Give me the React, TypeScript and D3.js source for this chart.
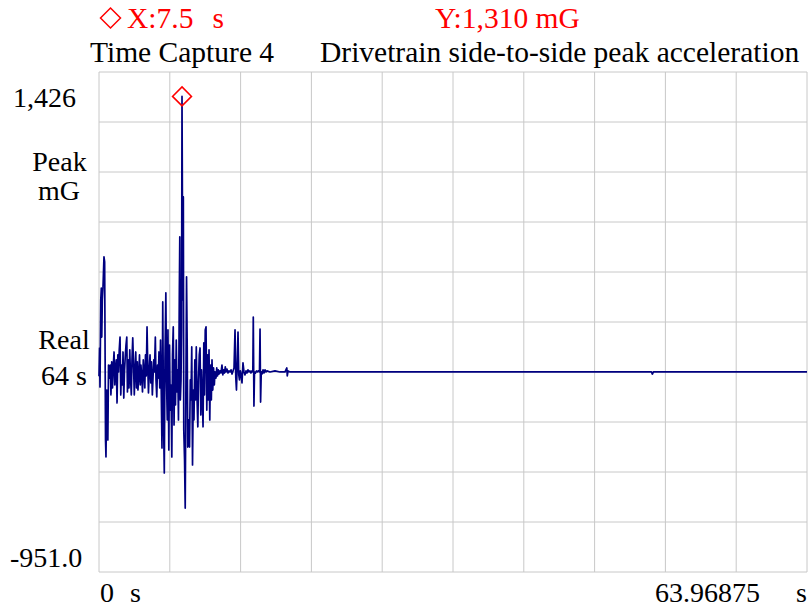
import React from "react";
import * as d3 from "d3";

const timesS: number[] = [
  0.0, 0.05, 0.09, 0.16, 0.21, 0.25, 0.3, 0.36, 0.45, 0.51, 0.59, 0.63, 0.7, 0.75, 0.8, 0.86,
  0.95, 1.02, 1.08, 1.15, 1.22, 1.28, 1.36, 1.43, 1.49, 1.56, 1.63, 1.7, 1.76, 1.83, 1.9, 1.97,
  2.03, 2.11, 2.17, 2.24, 2.3, 2.38, 2.44, 2.51, 2.57, 2.65, 2.71, 2.78, 2.85, 2.92, 2.98, 3.05,
  3.12, 3.19, 3.25, 3.32, 3.39, 3.46, 3.52, 3.6, 3.66, 3.73, 3.79, 3.87, 3.93, 4.0, 4.07, 4.14,
  4.2, 4.27, 4.34, 4.41, 4.47, 4.54, 4.61, 4.68, 4.74, 4.82, 4.88, 4.95, 5.01, 5.09, 5.15, 5.22,
  5.29, 5.36, 5.42, 5.49,
  5.56, 5.63, 5.69, 5.76, 5.83, 5.9, 5.96, 6.04, 6.1, 6.17, 6.23, 6.31, 6.37, 6.44, 6.51, 6.58,
  6.64, 6.71, 6.78, 6.85, 6.91, 6.98, 7.05, 7.12, 7.18, 7.26, 7.3, 7.35, 7.41, 7.46, 7.5, 7.57,
  7.62, 7.66, 7.73, 7.79, 7.84, 7.91, 7.97, 8.02, 8.11, 8.18, 8.25, 8.31, 8.38, 8.45, 8.52, 8.58,
  8.66, 8.72, 8.79, 8.85, 8.93, 8.99, 9.06, 9.13, 9.2, 9.26, 9.33, 9.4, 9.47, 9.53,
  9.6, 9.67, 9.74, 9.8, 9.88, 9.94, 10.01, 10.07, 10.15, 10.21, 10.28, 10.35, 10.42, 10.48, 10.57,
  10.64, 10.71, 10.78, 10.84, 10.93, 11.02, 11.11, 11.19, 11.25, 11.34, 11.41, 11.47, 11.56, 11.66,
  11.75, 11.84, 11.93, 12.02, 12.11, 12.2, 12.29, 12.36, 12.42, 12.5, 12.56, 12.63, 12.69, 12.77,
  12.83, 12.92, 13.01, 13.1, 13.19, 13.28, 13.37, 13.46, 13.55, 13.64, 13.73, 13.82, 13.9, 13.94,
  14.0, 14.05, 14.14, 14.23, 14.32, 14.41, 14.5, 14.55, 14.6, 14.66, 14.73, 14.82, 14.91, 15.0,
  15.09, 15.18, 15.45, 15.9, 16.35, 16.81, 16.97, 17.01, 17.08, 17.26, 30.0, 49.91, 50.0, 50.09,
  63.96875,
];

const valuesMG: number[] = [
  -20, 114, -71, 342, 399, 166, 342, 400, 547, 523, -323, -404, -86, -181, -323, 33,
  -29, 33, -109, 48, -76, 19, 95, -62, 10, 57, -147, 81, 0, 105, 166, -109,
  33, -62, 95, -124, 0, 81, 128, 166, -95, 57, -76, 105, -29, -109, 57, 162,
  33, -109, 10, 95, -76, 48, -86, -14, 81, -62, 33, -29, -95, 57, 0, -76,
  81, -19, 214, 19, -100, 10, 81, -52, 48, -109, -29, 57, 0, 166, -38, -119,
  33, -29, 95, -76,
  152, -109, -361, 333, -228, -480, 57, 376, -38, -228, 200, -371, 128, -181, -62, -404,
  81, 214, -252, 57, -157, 152, -95, 10, -228, 390, 642, -133, -38, 200, 1310, 342,
  832, -276, -418, -647, -181, 452, 119, -357, -228, -357, -38, -133, 119, -442, -86, -228,
  57, -133, 119, -109, -261, -38, 81, 114, -204, 10, -109, -261, 138, -109,
  200, 214, -181, 81, -133, 105, -228, 33, -133, 57, -86, 19, -62, 0, -29,
  19, -19, 10, -10, 5, -5, 33, -14, 10, -5, 24, 0, 14, -5,
  5, 0, 10, -10, 5, 19, 200, -29, -86, 57, 190, -14, -38, 5,
  -10, -52, 43, 0, -14, 5, -5, 10, 0, 5, -5, 5, 0, 261,
  -162, 0, -5, 5, 0, 5, 0, 204, -143, 0, -10, 10, -5, 10,
  0, 5, 0, 5, 0, 0, 19, -19, 5, 0, 0, 0, -10, 0,
  0,
];

const xDomain: [number, number] = [0, 63.96875];
const yDomain: [number, number] = [-951.0, 1426];
const cursorTime = 7.5;
const cursorValue = 1310;

const titleLeft = "Time Capture 4";
const titleRight = "Drivetrain side-to-side peak acceleration";
const cursorXText = "X:7.5";
const cursorXUnit = "s";
const cursorYText = "Y:1,310 mG";
const yTopLabel = "1,426";
const yBottomLabel = "-951.0";
const xStartLabel = "0";
const xEndLabel = "63.96875";
const xUnit = "s";
const unitLines = ["Peak", "mG"];
const modeLines = ["Real", "64 s"];

const FONT = "'Liberation Serif', 'Times New Roman', serif";

export default function App() {
  const left = 99, right = 807, top = 72, bottom = 572;
  const x = d3.scaleLinear().domain(xDomain).range([left, right]);
  const y = d3.scaleLinear().domain(yDomain).range([bottom, top]);
  const data = timesS.map((t, i) => [t, valuesMG[i]] as [number, number]);
  const line = d3
    .line<[number, number]>()
    .x((d) => x(d[0]))
    .y((d) => y(d[1]));

  const nDiv = 10;
  const xGrid = d3.range(nDiv + 1).map((i) => left + ((right - left) * i) / nDiv);
  const yGrid = d3.range(nDiv + 1).map((i) => top + ((bottom - top) * i) / nDiv);

  const diamond = (cx: number, cy: number, r: number) =>
    `M${cx},${cy - r}L${cx + r},${cy}L${cx},${cy + r}L${cx - r},${cy}Z`;

  const txt = { fontFamily: FONT, fontSize: 28 };
  const big = { fontFamily: FONT, fontSize: 29.5 };

  return (
    <svg
      width={812}
      height={610}
      style={{ position: "absolute", left: 0, top: 0, background: "#fff" }}
    >
      <rect x={0} y={0} width={812} height={610} fill="#fff" />
      {xGrid.map((gx, i) => (
        <line key={"gx" + i} x1={gx} x2={gx} y1={top} y2={bottom} stroke="#c8c8c8" strokeWidth={1} />
      ))}
      {yGrid.map((gy, i) => (
        <line key={"gy" + i} x1={left} x2={right} y1={gy} y2={gy} stroke="#c8c8c8" strokeWidth={1} />
      ))}
      <path d={line(data) || ""} fill="none" stroke="#000080" strokeWidth={1.7} strokeLinejoin="round" />
      <path
        d={diamond(x(cursorTime), y(cursorValue), 9.5)}
        fill="none"
        stroke="#ff0000"
        strokeWidth={1.5}
      />

      <path d={diamond(110.5, 18, 10)} fill="none" stroke="#ff0000" strokeWidth={1.5} />
      <text x={127} y={28} fill="#ff0000" style={big}>{cursorXText}</text>
      <text x={224} y={28} textAnchor="end" fill="#ff0000" style={big}>{cursorXUnit}</text>
      <text x={435} y={28} fill="#ff0000" style={big}>{cursorYText}</text>
      <text x={90} y={62} fill="#000" style={big}>{titleLeft}</text>
      <text x={320} y={62} fill="#000" style={big}>{titleRight}</text>

      <text x={13} y={107} fill="#000" style={txt}>{yTopLabel}</text>
      <text x={59.5} y={171} textAnchor="middle" fill="#000" style={txt}>{unitLines[0]}</text>
      <text x={59} y={200} textAnchor="middle" fill="#000" style={txt}>{unitLines[1]}</text>
      <text x={64} y={349} textAnchor="middle" fill="#000" style={txt}>{modeLines[0]}</text>
      <text x={64} y={385} textAnchor="middle" fill="#000" style={txt}>{modeLines[1]}</text>
      <text x={10} y={567} fill="#000" style={txt}>{yBottomLabel}</text>

      <text x={100} y={602} fill="#000" style={txt}>{xStartLabel}</text>
      <text x={141} y={602} textAnchor="end" fill="#000" style={txt}>{xUnit}</text>
      <text x={760} y={602} textAnchor="end" fill="#000" style={txt}>{xEndLabel}</text>
      <text x={807} y={602} textAnchor="end" fill="#000" style={txt}>{xUnit}</text>
    </svg>
  );
}
